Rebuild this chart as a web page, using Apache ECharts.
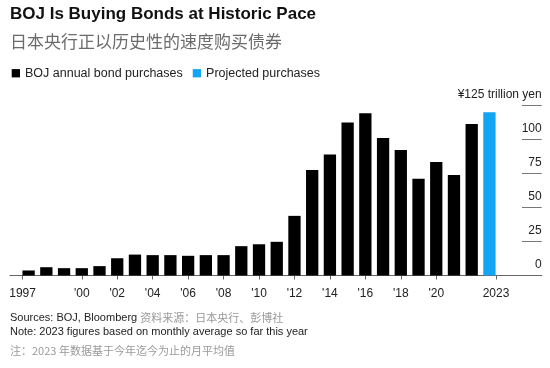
<!DOCTYPE html>
<html>
<head>
<meta charset="utf-8">
<script src="https://cdn.jsdelivr.net/npm/echarts@6/dist/echarts.min.js"></script>
<style>
html,body{margin:0;padding:0;background:#fff;}
#chart{width:550px;height:368px;}
</style>
</head>
<body>
<div id="chart"></div>
<script>
// ---- Data ----
const years = [1997,1998,1999,2000,2001,2002,2003,2004,2005,2006,2007,2008,2009,2010,2011,2012,2013,2014,2015,2016,2017,2018,2019,2020,2021,2022];
const purchases = [3.7,6.1,5.4,5.4,6.9,12.7,15.4,15.0,15.0,14.5,15.0,15.0,21.6,23.0,24.8,43.9,77.7,89.0,112.7,119.4,101.2,92.4,71.3,83.6,74.0,111.5];
const projectedYears = [2023];
const projected = [120.1];
const xTickValues = [1996.66,2000,2002,2004,2006,2008,2010,2012,2014,2016,2018,2020,2023.37];
const xTickLabels = ['1997',"'00","'02","'04","'06","'08","'10","'12","'14","'16","'18","'20",'2023'];
const yTicks = [0,25,50,75,100,125];
const yTopLabel = '¥125 trillion yen';

const FONT = '"Liberation Sans", Arial, "Noto Sans CJK SC", sans-serif';
const CJK = '"Noto Sans CJK SC", "Liberation Sans", sans-serif';

const chart = echarts.init(document.getElementById('chart'), null, {renderer:'canvas'});
const gridTop = 105.7, gridBottom = 92.5;

chart.setOption({
  animation:false,
  backgroundColor:'#fff',
  title:[
    {text:'BOJ Is Buying Bonds at Historic Pace', left:10, top:6, padding:0,
     textStyle:{fontFamily:FONT, fontSize:17, fontWeight:'bold', color:'#111'}},
    {text:'日本央行正以历史性的速度购买债券', left:10, top:33, padding:0,
     textStyle:{fontFamily:CJK, fontSize:17, fontWeight:'normal', color:'#6b6b6b'}},
    {text:'Sources: BOJ, Bloomberg {cn|资料来源：日本央行、彭博社}', left:10, top:312, padding:0,
     textStyle:{fontFamily:FONT, fontSize:11, fontWeight:'normal', color:'#222',
       rich:{cn:{fontFamily:CJK, fontSize:11, color:'#999'}}}},
    {text:'Note: 2023 figures based on monthly average so far this year', left:10, top:326.5, padding:0,
     textStyle:{fontFamily:FONT, fontSize:11, fontWeight:'normal', color:'#222'}},
    {text:'注：2023 年数据基于今年迄今为止的月平均值', left:10, top:345, padding:0,
     textStyle:{fontFamily:CJK, fontSize:11, fontWeight:'normal', color:'#999'}}
  ],
  legend:{
    left:11.7, top:67, padding:0, itemGap:10, itemWidth:8.3, itemHeight:8.3, icon:'rect',
    textStyle:{fontFamily:FONT, fontSize:12.5, color:'#222'},
    data:['BOJ annual bond purchases','Projected purchases']
  },
  grid:[
    {left:10, right:8.3, top:gridTop, bottom:gridBottom},
    {left:522, right:8.3, top:gridTop, bottom:gridBottom}
  ],
  xAxis:[
    {type:'value', gridIndex:0, min:1995.95, max:2025.95,
     axisLine:{show:true, onZero:false, lineStyle:{color:'#666', width:1}},
     axisTick:{show:true, length:4, lineStyle:{color:'#666'}, customValues:xTickValues},
     axisLabel:{show:true, margin:12.5, fontFamily:FONT, fontSize:12, color:'#222',
       customValues:xTickValues,
       formatter:function(v){ const i = xTickValues.indexOf(v); return i>=0 ? xTickLabels[i] : ''; }},
     splitLine:{show:false}},
    {type:'value', gridIndex:1, show:false, min:0, max:1}
  ],
  yAxis:[
    {type:'value', gridIndex:0, show:false, min:0, max:125},
    {type:'value', gridIndex:1, position:'right', min:0, max:125, interval:25,
     axisLine:{show:false}, axisTick:{show:false},
     splitLine:{show:true, lineStyle:{color:'#777', width:1}},
     axisLabel:{inside:true, margin:0, fontFamily:FONT, fontSize:12, color:'#222',
       verticalAlign:'bottom', padding:[0,0,5,0],
       formatter:function(v){ return v===yTicks[yTicks.length-1] ? yTopLabel : String(v); }}}
  ],
  series:[
    {name:'BOJ annual bond purchases', type:'bar', xAxisIndex:0, yAxisIndex:0,
     barWidth:12.3, barGap:'-100%', itemStyle:{color:'#000'},
     data:years.map((y,i)=>[y,purchases[i]])},
    {name:'Projected purchases', type:'bar', xAxisIndex:0, yAxisIndex:0,
     barWidth:12.3, barGap:'-100%', itemStyle:{color:'#12a5f4'},
     data:projectedYears.map((y,i)=>[y,projected[i]])}
  ]
});
</script>
</body>
</html>
